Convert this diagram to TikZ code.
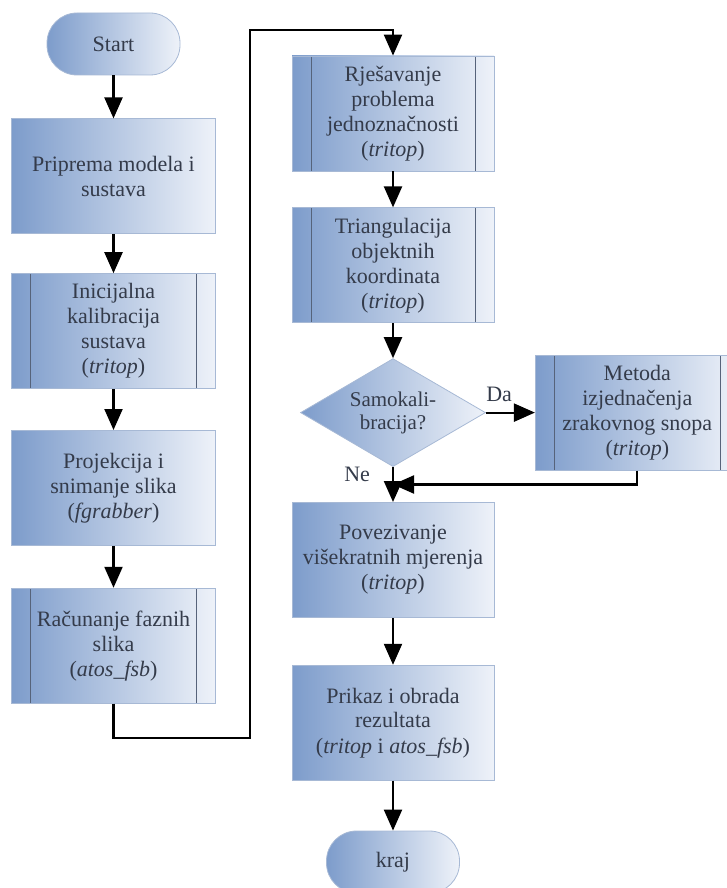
\documentclass[tikz,border=0pt]{standalone}
\usepackage{fontspec}
\setmainfont{Liberation Serif}[Ligatures=TeX]
\usetikzlibrary{arrows.meta,positioning,shapes.geometric,calc}
\definecolor{fillL}{HTML}{7D9CCB}
\definecolor{fillR}{HTML}{EEF2F9}
\definecolor{edgec}{HTML}{A7B9D5}
\definecolor{textc}{HTML}{343B4A}
\definecolor{sidec}{HTML}{56637A}

\begin{document}
\begin{tikzpicture}[x=1pt, y=-1pt,
  base/.style={draw=edgec, line width=0.8pt, left color=fillL, right color=fillR,
    text=textc, align=center, font=\rmfamily\fontsize{22}{25}\selectfont, inner sep=1pt},
  proc/.style={base, minimum width=#1, minimum height=115pt},
  proc/.default=204pt,
  sub/.style={proc=#1, path picture={
    \draw[sidec, line width=0.8pt]
      ([xshift=19pt]path picture bounding box.north west) -- ([xshift=19pt]path picture bounding box.south west)
      ([xshift=-19pt]path picture bounding box.north east) -- ([xshift=-19pt]path picture bounding box.south east);}},
  sub/.default=204pt,
  term/.style={base, rounded corners=30pt, minimum width=133pt, minimum height=62pt},
  dec/.style={base, diamond, aspect=1.7, inner sep=0pt, minimum width=185pt,
    minimum height=108pt, font=\rmfamily\fontsize{21}{23}\selectfont},
  arr/.style={-{Triangle[length=21pt, width=18pt]}, line width=2.2pt},
  lbl/.style={text=textc, font=\rmfamily\fontsize{22}{25}\selectfont, inner sep=1pt}
]
  \useasboundingbox (0,0) rectangle (726,888);

  \node[term] (start) at (113.5,44) {Start};
  \node[proc, below=43pt of start] (prip) {Priprema modela i\\sustava};
  \node[sub, below=39pt of prip] (inic) {Inicijalna\\kalibracija\\sustava\\(\textit{tritop})};
  \node[proc, below=41pt of inic] (proj) {Projekcija i\\snimanje slika\\(\textit{fgrabber})};
  \node[sub, below=42pt of proj] (racun) {Računanje faznih\\slika\\(\textit{atos\_fsb})};

  \node[sub=202pt] (rjes) at (393,113.5) {Rješavanje\\problema\\jednoznačnosti\\(\textit{tritop})};
  \node[sub=202pt, below=36pt of rjes] (tri) {Triangulacija\\objektnih\\koordinata\\(\textit{tritop})};
  \node[dec, below=35pt of tri] (dia) {Samokali-\\bracija?};
  \node[sub=204pt, right=49pt of dia] (meto) {Metoda\\izjednačenja\\zrakovnog snopa\\(\textit{tritop})};
  \node[proc=202pt, below=35pt of dia] (povez) {Povezivanje\\višekratnih mjerenja\\(\textit{tritop})};
  \node[proc=202pt, below=47pt of povez] (prik) {Prikaz i obrada\\rezultata\\(\textit{tritop} i \textit{atos\_fsb})};
  \node[term, below=50pt of prik] (kraj) {kraj};

  \coordinate (bendA) at (250,738);
  \coordinate (bendB) at (250,30);
  \coordinate (join) at ($(dia.south)!0.5!(povez.north)$);

  \draw[arr] (start) -- (prip);
  \draw[arr] (prip) -- (inic);
  \draw[arr] (inic) -- (proj);
  \draw[arr] (proj) -- (racun);
  \draw[arr] (racun.south) |- (bendA) -- (bendB) -| (rjes.north);
  \draw[arr] (rjes) -- (tri);
  \draw[arr] (tri) -- (dia);
  \draw[arr] (dia.east) -- node[lbl, above=9pt, pos=0.27] {Da} (meto.west);
  \draw[arr] (dia.south) -- node[lbl, left=21pt, pos=0.2] {Ne} (povez.north);
  \draw[arr] (meto.south) |- (join);
  \draw[arr] (povez) -- (prik);
  \draw[arr] (prik) -- (kraj);
\end{tikzpicture}
\end{document}
